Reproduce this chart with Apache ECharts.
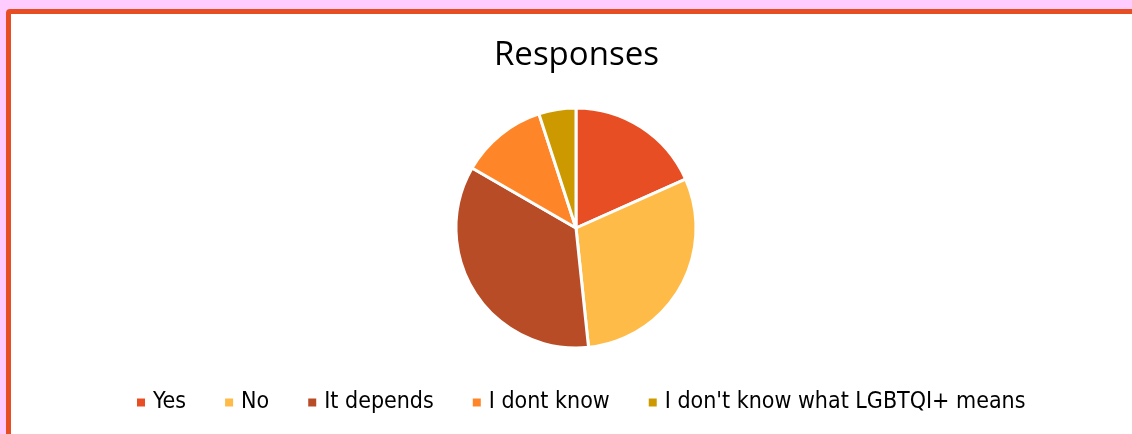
<!DOCTYPE html>
<html>
<head>
<meta charset="utf-8">
<script src="https://cdn.jsdelivr.net/npm/echarts@6/dist/echarts.min.js"></script>
<style>
  html, body { margin: 0; padding: 0; width: 1132px; height: 434px; overflow: hidden; background: #FFCCFF; }
  #frame {
    position: absolute; left: 6px; top: 9px; width: 1200px; height: 500px;
    border: 5px solid #E84E24; border-radius: 4px; background: #ffffff; box-sizing: border-box;
  }
  #chart { position: absolute; left: 0; top: 0; width: 1132px; height: 434px; }
</style>
</head>
<body>
<div id="frame"></div>
<div id="chart"></div>
<script>
// Survey answers and how many people gave each
const categories = ['Yes', 'No', 'It depends', 'I dont know', "I don't know what LGBTQI+ means"];
const counts = [11, 18, 21, 7, 3];
const colors = ['#E84E24', '#FFBB47', '#B84C27', '#FF8628', '#CC9A00'];

const chart = echarts.init(document.getElementById('chart'), null, { renderer: 'canvas' });

chart.setOption({
  backgroundColor: 'transparent',
  animation: false,
  color: colors,
  title: {
    text: 'Responses',
    left: 489,
    top: 34,
    textStyle: { fontFamily: 'Open Sans', fontSize: 33, fontWeight: 'normal', color: '#000000' }
  },
  legend: {
    bottom: 15,
    left: 132,
    icon: 'rect',
    itemWidth: 8,
    itemHeight: 8,
    itemGap: 39,
    itemStyle: { borderWidth: 0 },
    textStyle: { fontFamily: 'DejaVu Sans Condensed', fontSize: 23, color: '#000000', padding: [0, 0, 0, 3] },
    data: categories
  },
  series: [{
    type: 'pie',
    center: [576, 228],
    radius: 120,
    startAngle: 90,
    clockwise: true,
    label: { show: false },
    labelLine: { show: false },
    emphasis: { disabled: true },
    itemStyle: { borderColor: '#ffffff', borderWidth: 3 },
    data: categories.map((name, i) => ({ name: name, value: counts[i] }))
  }]
});
</script>
</body>
</html>
